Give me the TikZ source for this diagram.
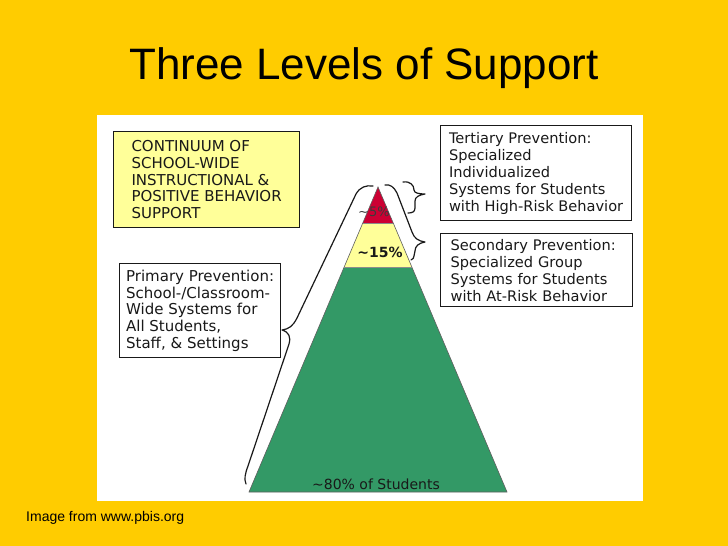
\documentclass[tikz,border=0pt]{standalone}
\usepackage{fontspec}
\setmainfont{DejaVu Sans}
\newfontfamily\slidefont{Liberation Sans}
\usetikzlibrary{positioning}
\definecolor{slideyellow}{RGB}{255,204,0}
\definecolor{notefill}{RGB}{255,255,153}
\definecolor{tiergreen}{RGB}{51,153,102}
\definecolor{tierred}{RGB}{204,0,51}
\definecolor{tieryellow}{RGB}{255,255,153}
\definecolor{inkgray}{RGB}{25,25,25}

\begin{document}
\begin{tikzpicture}[x=1pt, y=-1pt,
    infobox/.style={draw=inkgray, line width=1.2pt, fill=white, anchor=north west, align=left, inner sep=0pt, text=inkgray},
    leftfont/.style={font=\fontsize{15}{16.7}\selectfont},
    rightfont/.style={font=\fontsize{14.6}{17}\selectfont},
    bracestroke/.style={draw=inkgray, line width=1.2pt, line cap=round, line join=round}]
  \useasboundingbox (0,0) rectangle (728,546);
  \fill[slideyellow] (0,0) rectangle (728,546);
  \fill[white] (97,115) rectangle (643,501);
  % title and source
  \node[font=\slidefont\fontsize{44}{50}\selectfont] (title) at (364,68) {Three Levels of Support};
  \node[font=\slidefont\fontsize{14}{16}\selectfont, anchor=west, inner sep=0pt] (source) at (26,518) {Image from www.pbis.org};
  % pyramid tiers
  \coordinate (apex) at (378,187);
  \coordinate (redL) at (362.8,223);
  \coordinate (redR) at (393.2,223);
  \coordinate (yelL) at (344.2,267);
  \coordinate (yelR) at (411.8,267);
  \coordinate (baseL) at (249,492);
  \coordinate (baseR) at (507,492);
  \fill[tiergreen] (yelL) -- (yelR) -- (baseR) -- (baseL) -- cycle;
  \fill[tieryellow] (redL) -- (redR) -- (yelR) -- (yelL) -- cycle;
  \fill[tierred] (apex) -- (redR) -- (redL) -- cycle;
  \draw[inkgray!70, line width=0.6pt] (apex) -- (baseR) -- (baseL) -- cycle;
  \draw[inkgray!50, line width=0.5pt] (redL) -- (redR) (yelL) -- (yelR);
  \node[font=\fontsize{13}{15}\selectfont, text=inkgray!85] (topshare) at (374,212) {\textasciitilde 5\%};
  \node[font=\bfseries\fontsize{14}{16}\selectfont, text=inkgray] (midshare) at (380,252) {\textasciitilde 15\%};
  \node[font=\fontsize{14}{16}\selectfont, text=inkgray] (baseshare) at (376,484) {\textasciitilde 80\% of Students};
  % text boxes
  \node[infobox, leftfont, fill=notefill, minimum width=186pt, minimum height=96pt] (continuum) at (113,131)
    {CONTINUUM OF\\SCHOOL-WIDE\\INSTRUCTIONAL \&\\POSITIVE BEHAVIOR\\SUPPORT};
  \node[infobox, rightfont, minimum width=191pt, minimum height=95pt] (tertiary) at (440,125)
    {Tertiary Prevention:\\Specialized\\Individualized\\Systems for Students\\with High-Risk Behavior};
  \node[infobox, rightfont, inner xsep=10pt, text width=172pt, minimum height=73pt] (secondary) at (440,233)
    {Secondary Prevention:\\Specialized Group\\Systems for Students\\with At-Risk Behavior};
  \node[infobox, leftfont, minimum width=161pt, minimum height=94pt] (primary) at (119,263)
    {Primary Prevention:\\School-/Classroom-\\Wide Systems for\\All Students,\\Staff, \& Settings};
  % braces
  \coordinate (primtip) at (282,330);
  \coordinate (sectip) at (425,242);
  \coordinate (tertip) at (425,194);
  \draw[bracestroke] (373,186) .. controls (366,185) and (360,187) .. (356,194) -- (297,318)
    .. controls (293,326) and (289,329) .. (primtip)
    .. controls (289,332) and (291,337) .. (289,344) -- (248,466)
    .. controls (245,474) and (244,479) .. (246,484);
  \draw[bracestroke] (385,185) .. controls (390,184) and (394,187) .. (397,193) -- (412,232)
    .. controls (414,238) and (418,241) .. (sectip)
    .. controls (419,243) and (415,246) .. (415,251) -- (414,256)
    .. controls (414,258) and (413,259) .. (411,260);
  \draw[bracestroke] (403,182) .. controls (410,181) and (414,185) .. (414,190)
    .. controls (414,193) and (419,194) .. (tertip)
    .. controls (419,195) and (415,197) .. (415,201) -- (415,208)
    .. controls (415,212) and (412,213) .. (408,213);
\end{tikzpicture}
\end{document}
